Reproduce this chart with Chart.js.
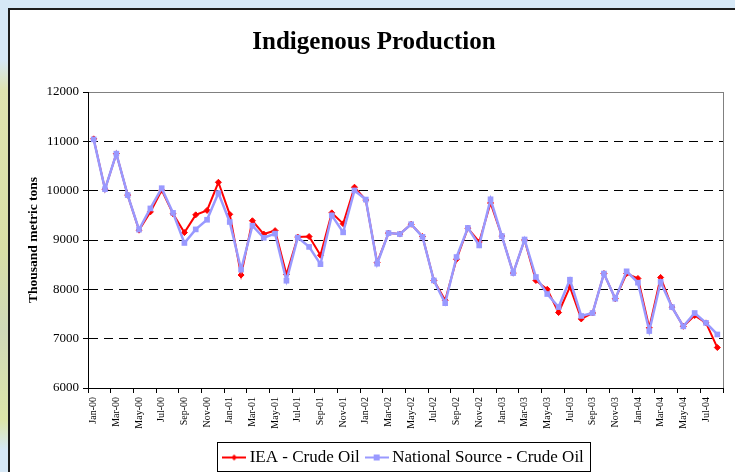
<!DOCTYPE html>
<html lang="en">
<head>
<meta charset="UTF-8" />
<title>Indigenous Production</title>
<script src="https://cdn.jsdelivr.net/npm/chart.js"></script>
<style>
  html,body{margin:0;padding:0;width:735px;height:472px;overflow:hidden}
  body{
    background:
      linear-gradient(180deg,rgba(214,231,245,0) 60px,#dfe4b0 90px,#d9dfa6 250px,#cfd9b8 330px,#dce6a9 420px,rgba(214,231,245,0) 450px) 0 0/10px 100% no-repeat,
      #d6e8f6;
    position:relative;
  }
  .panel{
    position:absolute;left:8px;top:8px;width:740px;height:480px;
    background:#fff;border-left:2px solid #1c1c1c;border-top:2px solid #1c1c1c;
  }
  #chart{position:absolute;left:15px;top:0}
</style>
</head>
<body>
<div class="panel">
  <canvas id="chart" width="713" height="469"></canvas>
</div>

<script>
/* ---------- data (thousand metric tons) ---------- */
const months = [
  'Jan-00','Feb-00','Mar-00','Apr-00','May-00','Jun-00','Jul-00','Aug-00','Sep-00','Oct-00','Nov-00','Dec-00',
  'Jan-01','Feb-01','Mar-01','Apr-01','May-01','Jun-01','Jul-01','Aug-01','Sep-01','Oct-01','Nov-01','Dec-01',
  'Jan-02','Feb-02','Mar-02','Apr-02','May-02','Jun-02','Jul-02','Aug-02','Sep-02','Oct-02','Nov-02','Dec-02',
  'Jan-03','Feb-03','Mar-03','Apr-03','May-03','Jun-03','Jul-03','Aug-03','Sep-03','Oct-03','Nov-03','Dec-03',
  'Jan-04','Feb-04','Mar-04','Apr-04','May-04','Jun-04','Jul-04','Aug-04'
];
const ieaCrude = [
  11050,10030,10750,9910,9200,9570,10010,9530,9150,9510,9600,10170,
  9520,8290,9390,9120,9190,8300,9060,9070,8690,9550,9330,10070,
  9810,8540,9140,9120,9320,9070,8180,7780,8610,9240,8960,9750,
  9080,8330,9000,8180,8000,7530,8050,7400,7520,8320,7810,8320,
  8220,7220,8240,7640,7250,7470,7320,6820
];
const nationalCrude = [
  11040,10030,10750,9910,9210,9640,10050,9550,8940,9215,9410,9950,
  9365,8400,9290,9045,9130,8175,9050,8860,8510,9500,9155,10005,
  9820,8520,9140,9120,9320,9065,8180,7720,8655,9245,8890,9825,
  9080,8330,9010,8250,7905,7640,8195,7460,7520,8320,7810,8365,
  8135,7155,8150,7640,7250,7520,7320,7085
];
const yTicks = [6000,7000,8000,9000,10000,11000,12000];

const RED  = '#ff0000';
const BLUE = '#9999ff';
const SERIF = '"Liberation Serif","Times New Roman",serif';

/* ---------- legend samples: line with marker ---------- */
function legendSample(color, shape){
  const c = document.createElement('canvas');
  c.width = 24; c.height = 10;
  const g = c.getContext('2d');
  g.strokeStyle = color; g.lineWidth = 2;
  g.beginPath(); g.moveTo(0,5); g.lineTo(24,5); g.stroke();
  g.fillStyle = color;
  if(shape==='diamond'){
    g.beginPath(); g.moveTo(12,2); g.lineTo(15,5); g.lineTo(12,8); g.lineTo(9,5); g.closePath(); g.fill();
  } else {
    g.fillRect(9,2,6,6);
  }
  return c;
}
const legendImgs = [legendSample(RED,'diamond'), legendSample(BLUE,'square')];

/* ---------- plugins ---------- */
const frame = {
  id:'frame',
  beforeDatasetsDraw(chart){
    const {ctx, chartArea:a} = chart;
    ctx.save();
    ctx.strokeStyle = '#808080'; ctx.lineWidth = 1;
    ctx.beginPath();
    ctx.moveTo(Math.round(a.right)+0.5, a.top);
    ctx.lineTo(Math.round(a.right)+0.5, a.bottom);
    ctx.stroke();
    ctx.restore();
  },
  afterDraw(chart){
    const boxes = chart.legend.legendHitBoxes;
    if(!boxes || !boxes.length) return;
    const xs = boxes.map(b=>b.left), xe = boxes.map(b=>b.left+b.width);
    const x1 = Math.round(Math.min(...xs) - 10) + 0.5;
    const x2 = Math.round(Math.max(...xe) + 6) + 0.5;
    const cy = boxes[0].top + boxes[0].height/2;
    const y1 = Math.round(cy - 16) + 0.5;
    const y2 = Math.round(cy + 13) + 0.5;
    const ctx = chart.ctx;
    ctx.save();
    ctx.strokeStyle = '#000'; ctx.lineWidth = 1;
    ctx.strokeRect(x1, y1, x2-x1, y2-y1);
    ctx.restore();
  }
};

/* ---------- chart ---------- */
new Chart(document.getElementById('chart'), {
  type:'line',
  data:{
    labels: months,
    datasets:[
      {label:'IEA - Crude Oil', data: ieaCrude, borderColor:RED, backgroundColor:RED,
       borderWidth:2, pointStyle:'rectRot', pointRadius:3, pointBorderWidth:1,
       pointBackgroundColor:RED, pointBorderColor:RED, tension:0, order:2},
      {label:'National Source - Crude Oil', data: nationalCrude, borderColor:BLUE, backgroundColor:BLUE,
       borderWidth:2.5, pointStyle:'rect', pointRadius:4, pointBorderWidth:0,
       pointBackgroundColor:BLUE, pointBorderColor:BLUE, tension:0, order:1}
    ]
  },
  options:{
    responsive:false, animation:false, devicePixelRatio:1,
    layout:{padding:{left:0,right:15,top:0,bottom:3}},
    plugins:{
      title:{display:true, text:'Indigenous Production', color:'#000',
             font:{family:SERIF, size:25, weight:'bold'}, padding:{top:18,bottom:34}},
      legend:{
        position:'bottom', fullSize:false,
        labels:{
          color:'#000', font:{family:SERIF, size:17}, padding:10,
          usePointStyle:true, pointStyleWidth:14,
          sort:(a,b)=>a.datasetIndex-b.datasetIndex,
          generateLabels(chart){
            const items = Chart.defaults.plugins.legend.labels.generateLabels(chart);
            items.forEach(it=>{ it.pointStyle = legendImgs[it.datasetIndex]; it.rotation = 0; });
            return items;
          }
        }
      },
      tooltip:{enabled:false}
    },
    scales:{
      x:{
        offset:true,
        grid:{offset:true, drawOnChartArea:false, tickLength:5,
              color:c=>(c.index===undefined || c.index%2===0)?'#000':'rgba(0,0,0,0)'},
        border:{color:'#000', width:1},
        ticks:{autoSkip:false, minRotation:90, maxRotation:90, padding:4, color:'#000',
               font:{family:SERIF, size:10},
               callback:(v,i)=> i%2===0 ? months[i] : ''},
        afterFit:s=>{ s.height = 51; }
      },
      y:{
        min:6000, max:12000,
        afterBuildTicks:s=>{ s.ticks = yTicks.map(v=>({value:v})); },
        grid:{tickLength:5, tickColor:'#000', lineWidth:1,
              color:c=>{ const v=c.tick&&c.tick.value; return v===12000?'#808080':(v===6000?'rgba(0,0,0,0)':'#000'); }},
        border:{color:'#000', width:1,
                dash:c=> (c.tick && c.tick.value!==12000) ? [9,6] : []},
        ticks:{padding:4, color:'#000', font:{family:SERIF, size:13}, callback:v=>String(v)},
        title:{display:true, text:'Thousand metric tons', color:'#000',
               font:{family:SERIF, size:13.5, weight:'bold'}, padding:{top:0,bottom:0}},
        afterFit:s=>{ s.width = 63; }
      }
    }
  },
  plugins:[frame]
});
</script>
</body>
</html>
